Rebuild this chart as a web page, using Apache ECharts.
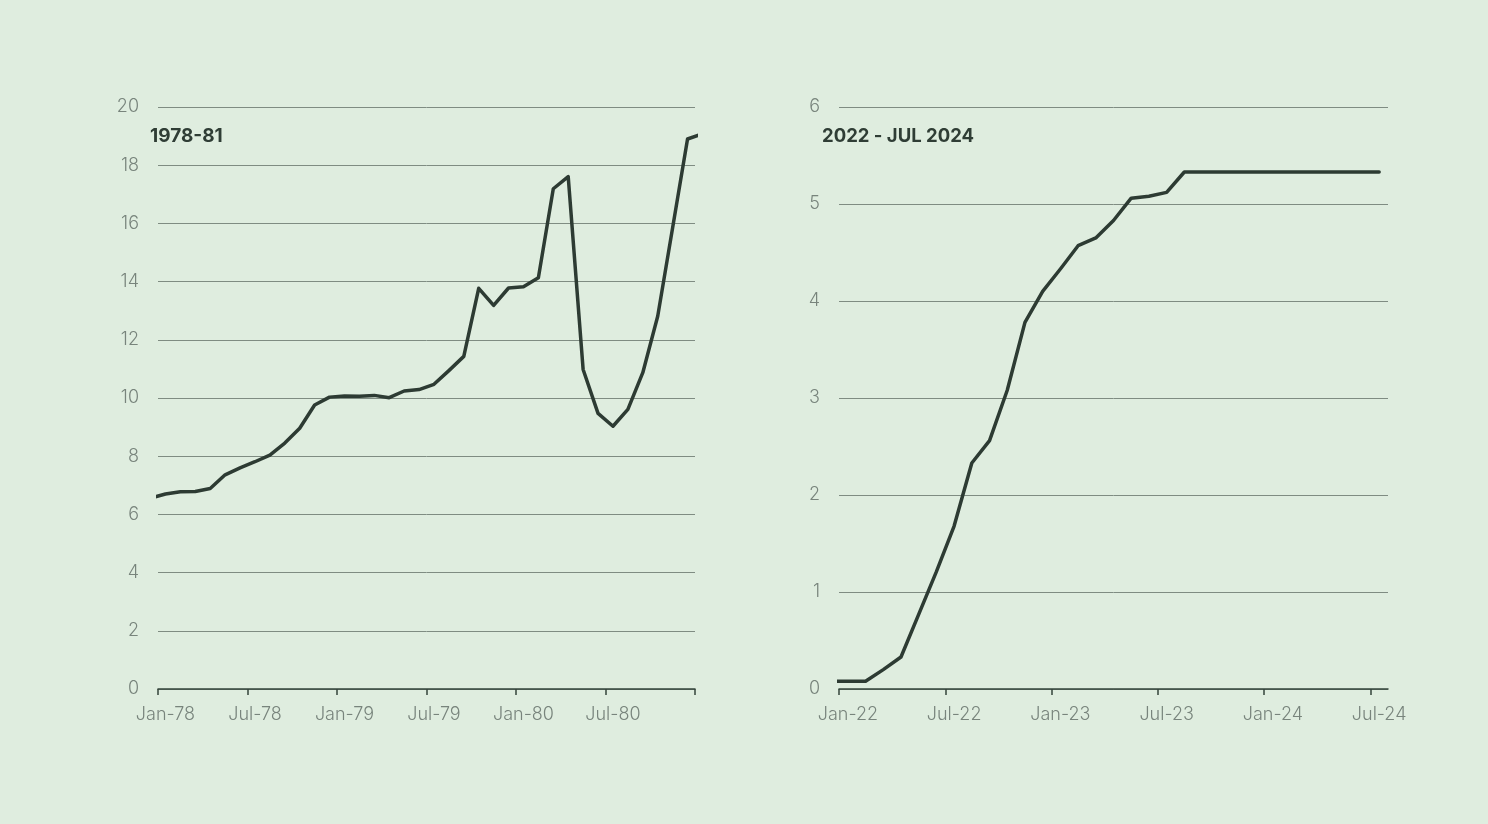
<!DOCTYPE html>
<html>
<head>
<meta charset="utf-8">
<style>
  html, body { margin: 0; padding: 0; background: #dfeddf; }
  #chart { width: 1488px; height: 824px; }
</style>
<script src="https://cdn.jsdelivr.net/npm/echarts@6/dist/echarts.min.js"></script>
</head>
<body>
<div id="chart"></div>
<script>
// ---- Data (monthly effective federal funds rate, %) ----
// Left panel: Dec-77 .. Jan-81 (first/last points sit just outside the axis range and are clipped)
const months1978 = ['Dec-77',
  'Jan-78','Feb-78','Mar-78','Apr-78','May-78','Jun-78','Jul-78','Aug-78','Sep-78','Oct-78','Nov-78','Dec-78',
  'Jan-79','Feb-79','Mar-79','Apr-79','May-79','Jun-79','Jul-79','Aug-79','Sep-79','Oct-79','Nov-79','Dec-79',
  'Jan-80','Feb-80','Mar-80','Apr-80','May-80','Jun-80','Jul-80','Aug-80','Sep-80','Oct-80','Nov-80','Dec-80',
  'Jan-81'];
const rates1978 = [6.56,
  6.70, 6.78, 6.79, 6.89, 7.36, 7.60, 7.81, 8.04, 8.45, 8.96, 9.76, 10.03,
  10.07, 10.06, 10.09, 10.01, 10.24, 10.29, 10.47, 10.94, 11.43, 13.77, 13.18, 13.78,
  13.82, 14.13, 17.19, 17.61, 10.98, 9.47, 9.03, 9.61, 10.87, 12.81, 15.85, 18.90,
  19.08];
const xTicks1978 = ['Jan-78','Jul-78','Jan-79','Jul-79','Jan-80','Jul-80',''];

// Right panel: Dec-21 .. Jul-24
const months2022 = ['Dec-21',
  'Jan-22','Feb-22','Mar-22','Apr-22','May-22','Jun-22','Jul-22','Aug-22','Sep-22','Oct-22','Nov-22','Dec-22',
  'Jan-23','Feb-23','Mar-23','Apr-23','May-23','Jun-23','Jul-23','Aug-23','Sep-23','Oct-23','Nov-23','Dec-23',
  'Jan-24','Feb-24','Mar-24','Apr-24','May-24','Jun-24','Jul-24'];
const rates2022 = [0.08,
  0.08, 0.08, 0.20, 0.33, 0.77, 1.21, 1.68, 2.33, 2.56, 3.08, 3.78, 4.10,
  4.33, 4.57, 4.65, 4.83, 5.06, 5.08, 5.12, 5.33, 5.33, 5.33, 5.33, 5.33,
  5.33, 5.33, 5.33, 5.33, 5.33, 5.33, 5.33];
const xTicks2022 = ['Jan-22','Jul-22','Jan-23','Jul-23','Jan-24','Jul-24'];

const yTicks1978 = [0,2,4,6,8,10,12,14,16,18,20];
const yTicks2022 = [0,1,2,3,4,5,6];

const titles = ['1978-81', '2022 - JUL 2024'];

// ---- Build series data: each month plotted at its mid-point (month index from first tick + 0.5) ----
const toXY = (vals) => vals.map((v, i) => [i - 0.5, v]);

const FONT = 'Inter, "Noto Sans", sans-serif';
const LINE = '#2d3b33';
const GRID = '#7f8c82';
const LABEL = '#78847c';

function xAxisFor(gridIndex, ticks, max) {
  const tickVals = ticks.map((_, i) => i * 6);            // ticks at month starts
  const labelVals = ticks.map((_, i) => i * 6 + 0.5)       // labels centred on the month
                         .filter((_, i) => ticks[i] !== '');
  return {
    type: 'value', gridIndex, min: 0, max, interval: 6,
    axisLine: { show: true, onZero: false, lineStyle: { color: '#35443b', width: 1.5 } },
    axisTick: { show: true, length: 6, lineStyle: { color: '#35443b', width: 1.5 }, customValues: tickVals },
    axisLabel: {
      customValues: labelVals,
      formatter: (v) => ticks[Math.floor(v / 6)] || '',
      color: LABEL, fontFamily: FONT, fontSize: 18, fontWeight: 300, margin: 17
    },
    splitLine: { show: false }
  };
}
function yAxisFor(gridIndex, ticks) {
  return {
    type: 'value', gridIndex, min: ticks[0], max: ticks[ticks.length - 1], interval: ticks[1] - ticks[0],
    axisLine: { show: false }, axisTick: { show: false },
    axisLabel: { color: LABEL, fontFamily: FONT, fontSize: 18, fontWeight: 300, margin: 19 },
    splitLine: { show: true, lineStyle: { color: GRID, width: 1 } }
  };
}

const chart = echarts.init(document.getElementById('chart'), null, { renderer: 'canvas' });
chart.setOption({
  backgroundColor: '#dfeddf',
  animation: false,
  title: [
    { text: titles[0], left: 150, top: 127, padding: 0, textStyle: { fontFamily: FONT, fontSize: 19, fontWeight: 700, color: '#2f3d35' } },
    { text: titles[1], left: 822, top: 127, padding: 0, textStyle: { fontFamily: FONT, fontSize: 18.5, fontWeight: 700, color: '#2f3d35' } }
  ],
  grid: [
    { left: 158, right: 793, top: 107, bottom: 135, containLabel: false },
    { left: 839, right: 100, top: 107, bottom: 135, containLabel: false }
  ],
  xAxis: [ xAxisFor(0, xTicks1978, 36), xAxisFor(1, xTicks2022, 31) ],
  yAxis: [ yAxisFor(0, yTicks1978), yAxisFor(1, yTicks2022) ],
  series: [
    { type: 'line', xAxisIndex: 0, yAxisIndex: 0, data: toXY(rates1978), showSymbol: false, clip: true,
      lineStyle: { color: LINE, width: 3.5, cap: 'round', join: 'round' } },
    { type: 'line', xAxisIndex: 1, yAxisIndex: 1, data: toXY(rates2022), showSymbol: false, clip: true,
      lineStyle: { color: LINE, width: 3.5, cap: 'round', join: 'round' } }
  ]
});
</script>
</body>
</html>
